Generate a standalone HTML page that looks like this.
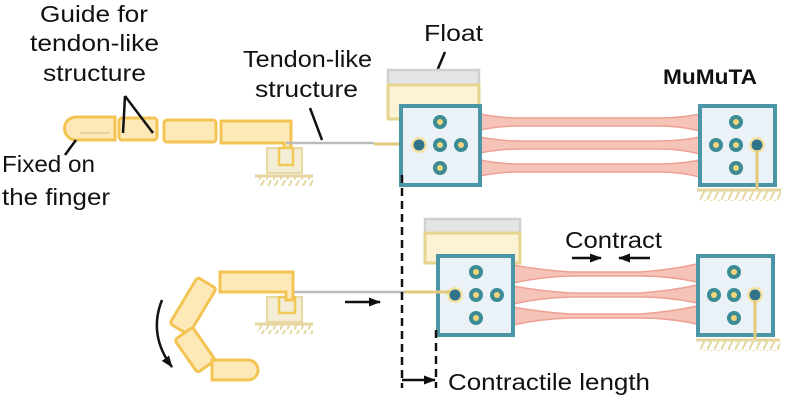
<!DOCTYPE html>
<html><head><meta charset="utf-8"><style>
body{margin:0;background:#fff;width:791px;height:400px;overflow:hidden}
text{font-family:"Liberation Sans",sans-serif;font-size:23px;fill:#111}
</style></head><body>
<svg width="791" height="400" viewBox="0 0 791 400" xmlns="http://www.w3.org/2000/svg">
<defs>
<pattern id="h" width="7" height="10" patternUnits="userSpaceOnUse"><line x1="5" y1="0" x2="0" y2="10" stroke="#e6d6a0" stroke-width="2"/></pattern>
<marker id="ar" markerUnits="userSpaceOnUse" markerWidth="12" markerHeight="10" refX="11" refY="5" orient="auto"><path d="M0,0.5 L12,5 L0,9.5 z" fill="#111"/></marker>
</defs>
<!-- top finger -->
<g fill="#fde8b8" stroke="#f3c453" stroke-width="3">
<path d="M76,117 H115 V140 H76 A11.5,11.5 0 0 1 76,117 z"/>
<rect x="119" y="118" width="38" height="22" rx="3"/>
<rect x="164" y="120" width="52" height="22" rx="3"/>
<path d="M221,121 H291 V148 H284 V143 H221 z"/>
</g>
<line x1="80" y1="133" x2="110" y2="133" stroke="#d9c99a" stroke-width="1.5"/>
<g fill="#f3edd6" stroke="#e8d9a3" stroke-width="2"><rect x="267" y="148" width="35" height="25"/></g>
<rect x="279" y="148" width="14" height="17" fill="none" stroke="#f1c85a" stroke-width="2.5"/>
<line x1="255" y1="176" x2="313" y2="176" stroke="#e6d6a0" stroke-width="3"/>
<rect x="257" y="177" width="56" height="9" fill="url(#h)"/>
<line x1="286" y1="143" x2="374" y2="143" stroke="#bbb" stroke-width="2.5"/>
<line x1="374" y1="144" x2="418" y2="144" stroke="#e3c97a" stroke-width="3"/>
<!-- label lines -->
<g stroke="#111" stroke-width="2.5" fill="none">
<path d="M125,96 L123,133 M125,96 L153,133"/>
<line x1="65" y1="155" x2="76" y2="140"/>
<line x1="310" y1="108" x2="322" y2="140"/>
<line x1="445" y1="52" x2="434" y2="78"/>
</g>
<!-- top float + actuator -->
<rect x="388" y="70" width="91" height="15" fill="#e4e4e4" stroke="#cfcfcf" stroke-width="2.5"/>
<rect x="388" y="85" width="91" height="34" fill="#fbf3d3" stroke="#e7d48e" stroke-width="3"/>
<g fill="#f6c3b8" stroke="#eda192" stroke-width="1.5">
<path d="M480,114 Q500,118 520,118 H660 Q680,118 700,114 V131 Q680,126 660,126 H520 Q500,126 480,130 z"/>
<path d="M480,137 Q500,141 520,141 H660 Q680,141 700,137 V154 Q680,149 660,149 H520 Q500,149 480,153 z"/>
<path d="M480,160 Q500,164 520,164 H660 Q680,164 700,160 V177 Q680,172 660,172 H520 Q500,172 480,176 z"/>
</g>
<rect x="401" y="106" width="79" height="79" fill="#eaf2f8" stroke="#4a95a6" stroke-width="4"/>
<rect x="700" y="106" width="75" height="79" fill="#eaf2f8" stroke="#4a95a6" stroke-width="4"/>
<g fill="#f2d47a" stroke="#3b8c95" stroke-width="4">
<circle cx="440" cy="122" r="5"/><circle cx="440" cy="145" r="5"/><circle cx="440" cy="168" r="5"/><circle cx="461" cy="145" r="5"/>
<circle cx="736" cy="122" r="5"/><circle cx="736" cy="145" r="5"/><circle cx="736" cy="168" r="5"/><circle cx="716" cy="145" r="5"/>
</g>
<circle cx="419" cy="145" r="8" fill="#f6e2a4"/><circle cx="419" cy="145" r="5.5" fill="#2f7488"/>
<circle cx="757" cy="145" r="8" fill="#f6e2a4"/><circle cx="757" cy="145" r="5.5" fill="#2f7488"/>
<line x1="757" y1="150" x2="757" y2="190" stroke="#e3c97a" stroke-width="3"/>
<line x1="697" y1="190" x2="781" y2="190" stroke="#e6d6a0" stroke-width="3"/>
<rect x="699" y="191" width="82" height="10" fill="url(#h)"/>
<!-- bottom actuator -->
<rect x="425" y="219" width="95" height="14" fill="#e4e4e4" stroke="#cfcfcf" stroke-width="2.5"/>
<rect x="425" y="233" width="95" height="30" fill="#fbf3d3" stroke="#e7d48e" stroke-width="3"/>
<g fill="#f6c3b8" stroke="#eda192" stroke-width="1.5">
<path d="M513,265 Q540,270 570,272 H640 Q670,270 697,264 V282 Q670,276 640,276 H570 Q540,277 513,283 z"/>
<path d="M513,286 Q540,291 570,293 H640 Q670,291 697,285 V303 Q670,297 640,297 H570 Q540,298 513,304 z"/>
<path d="M513,307 Q540,312 570,314 H640 Q670,312 697,306 V324 Q670,318 640,318 H570 Q540,319 513,325 z"/>
</g>
<rect x="438" y="256" width="75" height="79" fill="#eaf2f8" stroke="#4a95a6" stroke-width="4"/>
<rect x="698" y="256" width="75" height="79" fill="#eaf2f8" stroke="#4a95a6" stroke-width="4"/>
<g fill="#f2d47a" stroke="#3b8c95" stroke-width="4">
<circle cx="476" cy="272" r="5"/><circle cx="476" cy="295" r="5"/><circle cx="476" cy="318" r="5"/><circle cx="497" cy="295" r="5"/>
<circle cx="734" cy="272" r="5"/><circle cx="734" cy="295" r="5"/><circle cx="734" cy="318" r="5"/><circle cx="714" cy="295" r="5"/>
</g>
<circle cx="455" cy="295" r="8" fill="#f6e2a4"/><circle cx="455" cy="295" r="5.5" fill="#2f7488"/>
<circle cx="755" cy="295" r="8" fill="#f6e2a4"/><circle cx="755" cy="295" r="5.5" fill="#2f7488"/>
<line x1="755" y1="300" x2="755" y2="340" stroke="#e3c97a" stroke-width="3"/>
<line x1="696" y1="340" x2="780" y2="340" stroke="#e6d6a0" stroke-width="3"/>
<rect x="698" y="341" width="82" height="10" fill="url(#h)"/>
<line x1="405" y1="292" x2="450" y2="292" stroke="#e3c97a" stroke-width="3"/>
<!-- bent finger -->
<line x1="220" y1="292" x2="405" y2="292" stroke="#bbb" stroke-width="2.5"/>
<g fill="#f3edd6" stroke="#e8d9a3" stroke-width="2"><rect x="267" y="297" width="35" height="25"/></g>
<rect x="279" y="297" width="16" height="16" fill="none" stroke="#f1c85a" stroke-width="2.5"/>
<line x1="255" y1="324" x2="313" y2="324" stroke="#e6d6a0" stroke-width="3"/>
<rect x="257" y="325" width="56" height="9" fill="url(#h)"/>
<g fill="#fde8b8" stroke="#f3c453" stroke-width="3">
<path d="M220,272 H293 V300 H286 V292 H220 z"/>
<rect x="-11" y="-27" width="22" height="54" rx="3" transform="translate(193,306) rotate(31)"/>
<rect x="-11" y="-20" width="22" height="40" rx="3" transform="translate(195,350) rotate(-35)"/>
<path d="M212,360 H248 A10,10 0 0 1 248,380 H212 z"/>
</g>
<!-- arrows / dashes -->
<path d="M162,300 Q148,335 172,367" fill="none" stroke="#111" stroke-width="2.5" marker-end="url(#ar)"/>
<line x1="345" y1="302" x2="380" y2="302" stroke="#111" stroke-width="2.5" marker-end="url(#ar)"/>
<line x1="402" y1="175" x2="402" y2="388" stroke="#111" stroke-width="2.5" stroke-dasharray="8,5"/>
<line x1="436" y1="330" x2="436" y2="388" stroke="#111" stroke-width="2.5" stroke-dasharray="8,5"/>
<line x1="402" y1="380" x2="435" y2="380" stroke="#111" stroke-width="2.5" marker-end="url(#ar)"/>
<line x1="572" y1="258" x2="601" y2="258" stroke="#111" stroke-width="2.5" marker-end="url(#ar)"/>
<line x1="650" y1="258" x2="619" y2="258" stroke="#111" stroke-width="2.5" marker-end="url(#ar)"/>
<!-- text -->
<text x="40" y="22" textLength="108" lengthAdjust="spacingAndGlyphs">Guide for</text>
<text x="30" y="51" textLength="129" lengthAdjust="spacingAndGlyphs">tendon-like</text>
<text x="43" y="81" textLength="103" lengthAdjust="spacingAndGlyphs">structure</text>
<text x="2" y="172" textLength="93" lengthAdjust="spacingAndGlyphs">Fixed on</text>
<text x="2" y="205" textLength="108" lengthAdjust="spacingAndGlyphs">the finger</text>
<text x="243" y="67" textLength="129" lengthAdjust="spacingAndGlyphs">Tendon-like</text>
<text x="255" y="97" textLength="103" lengthAdjust="spacingAndGlyphs">structure</text>
<text x="424" y="41" textLength="59" lengthAdjust="spacingAndGlyphs">Float</text>
<text x="663" y="84" textLength="94" lengthAdjust="spacingAndGlyphs" style="font-weight:bold;font-size:21px">MuMuTA</text>
<text x="565" y="248" textLength="97" lengthAdjust="spacingAndGlyphs">Contract</text>
<text x="448" y="390" textLength="202" lengthAdjust="spacingAndGlyphs">Contractile length</text>
</svg>
</body></html>
